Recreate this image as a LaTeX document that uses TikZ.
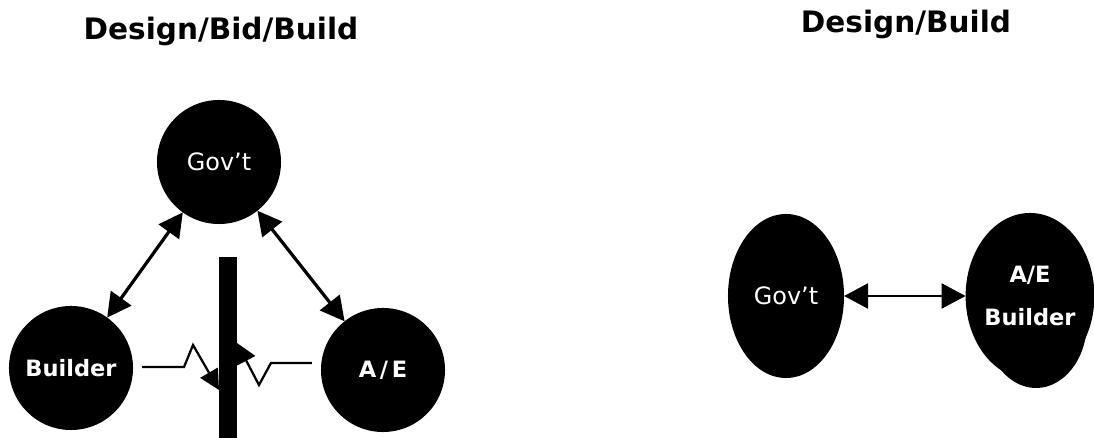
\documentclass[tikz,border=0pt]{standalone}
\usepackage{fontspec}
\setmainfont{DejaVu Sans}
\usetikzlibrary{arrows.meta,calc,shapes.geometric}
\begin{document}
\begin{tikzpicture}[x=0.025cm,y=-0.025cm]
\tikzset{party/.style = {shape        = circle,
                         fill         = black,
                         text         = white,
                         inner sep    = 0pt,
                         outer sep    = 0pt,
                         minimum size = 3.1cm},
         oval/.style  = {shape        = ellipse,
                         fill         = black,
                         text         = white,
                         inner sep    = 0pt,
                         outer sep    = 0pt},
         link/.style  = {line width = 2.3pt,
                         {Triangle[length=0.6cm,width=0.62cm]}-{Triangle[length=0.6cm,width=0.62cm]}},
         zig/.style   = {line width = 1.6pt,
                         -{Triangle[length=0.5cm,width=0.5cm]}},
         titre/.style = {anchor=base, font=\bfseries\fontsize{21}{24}\selectfont}}
\useasboundingbox (0,0) rectangle (1094,438);
% titles
\node[titre] (t1) at (221,40) {Design/Bid/Build};
\node[titre] (t2) at (906,33) {Design/Build};
% design / bid / build
\node[party,font=\fontsize{17}{20}\selectfont] (gov) at (219,162) {Gov't};
\node[party,font=\bfseries\fontsize{16}{18}\selectfont] (builder) at (71,368) {Builder};
\node[party,font=\bfseries\fontsize{16}{18}\selectfont] (ae) at (383,370) {A\,/\,E};
\node[fill=black,inner sep=0pt,outer sep=0pt,minimum width=0.45cm,minimum height=4.55cm] (wall) at (228,348) {};
\draw[link] (gov) -- (builder);
\draw[link] (gov) -- (ae);
\draw[zig] ($(builder.east)+(9,-1)$) -- ++(42,0) -- ++(9,-22) -- ($(wall.west)+(0,42)$);
\draw[zig] ($(ae.west)+(-9,-7)$) -- ++(-41,0) -- ++(-12,22) -- ($(wall.east)+(0,-5)$);
% design / build
\fill (1036,322) ellipse [x radius=51, y radius=66];
\node[oval,minimum width=2.9cm,minimum height=4.1cm,font=\fontsize{17}{20}\selectfont] (gov2) at (786,296) {Gov't};
\node[oval,minimum width=2.8cm,minimum height=4.15cm,align=center,font=\bfseries\fontsize{16}{30}\selectfont] (aeb) at (1030,296) {A/E\\Builder};
\draw[link,line width=2pt] (gov2) -- (aeb);
\end{tikzpicture}
\end{document}
